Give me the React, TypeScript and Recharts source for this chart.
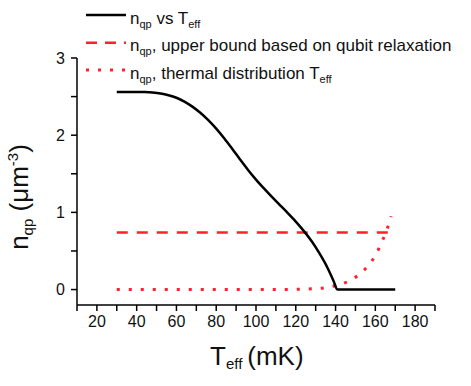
import { Line, LineChart, XAxis, YAxis } from "recharts";

// n_qp vs T_eff (black curve)
const curveT = [30, 40, 44, 48, 52, 56, 60, 64, 68, 72, 76, 80, 84, 88, 92, 96, 100, 104, 108, 112, 116, 120, 124, 128, 132, 136, 139, 141, 150, 160, 170];
const curveN = [2.56, 2.56, 2.558, 2.552, 2.54, 2.518, 2.485, 2.435, 2.37, 2.29, 2.195, 2.085, 1.96, 1.825, 1.685, 1.55, 1.425, 1.31, 1.2, 1.095, 0.99, 0.88, 0.76, 0.625, 0.465, 0.28, 0.11, 0, 0, 0, 0];

// upper bound from qubit relaxation (red dashed)
const boundT = [30, 170];
const boundN = [0.74, 0.74];

// thermal distribution (red dotted)
const thermalT = [30, 60, 90, 110, 120, 125, 130, 135, 140, 145, 150, 155, 158, 161, 164, 166, 168];
const thermalN = [0, 0, 0, 0.001, 0.003, 0.006, 0.012, 0.025, 0.05, 0.09, 0.16, 0.27, 0.36, 0.49, 0.66, 0.79, 0.95];

const xTicks = [10, 20, 30, 40, 50, 60, 70, 80, 90, 100, 110, 120, 130, 140, 150, 160, 170, 180, 190];
const yTicks = [0, 0.5, 1, 1.5, 2, 2.5, 3];

const legendRest = [" vs ", ", upper bound based on qubit relaxation", ", thermal distribution "];

const toRows = (ts: number[], ns: number[]) => ts.map((t, i) => ({ t, n: ns[i] }));

const FONT = "'Liberation Sans', Arial, sans-serif";
const RED = "#ff1f2f";

function XTitle() {
  return (
    <text x={210} y={365} fontFamily={FONT} fontSize={26} fill="#111">
      <tspan>T</tspan>
      <tspan fontSize={15} dy={4}>eff</tspan>
      <tspan dy={-4} dx={5}>(mK)</tspan>
    </text>
  );
}

function YTitle() {
  return (
    <text
      x={28}
      y={197}
      transform="rotate(-90, 28, 197)"
      textAnchor="middle"
      fontFamily={FONT}
      fontSize={26}
      fill="#111"
    >
      <tspan>n</tspan>
      <tspan fontSize={15} dy={5}>qp</tspan>
      <tspan dy={-5}> (μm</tspan>
      <tspan fontSize={15} dy={-10}>-3</tspan>
      <tspan dy={10}>)</tspan>
    </text>
  );
}

function LegendBox() {
  const rows = [
    { y: 15, stroke: "#000", dash: undefined as string | undefined, w: 2.5 },
    { y: 42.7, stroke: RED, dash: "11 8", w: 2.5 },
    { y: 70, stroke: RED, dash: "3 9", w: 3 },
  ];
  return (
    <svg width={471} height={90} style={{ position: "absolute", left: 0, top: 0 }}>
      {rows.map((r, i) => (
        <g key={i}>
          <line x1={86} x2={126} y1={r.y} y2={r.y} stroke={r.stroke} strokeWidth={r.w} strokeDasharray={r.dash} />
          <text x={130} y={r.y + 8.5} fontFamily={FONT} fontSize={17} fill="#111">
            <tspan>n</tspan>
            <tspan fontSize={11} dy={4}>qp</tspan>
            <tspan dy={-4}>{legendRest[i]}</tspan>
            {i !== 1 && (
              <>
                <tspan>T</tspan>
                <tspan fontSize={11} dy={4}>eff</tspan>
              </>
            )}
          </text>
        </g>
      ))}
    </svg>
  );
}

export default function App() {
  return (
    <div style={{ position: "absolute", left: 0, top: 0, width: 471, height: 386, background: "#fff" }}>
      <LineChart width={471} height={386} margin={{ top: 58, right: 36, left: 0, bottom: 0 }}>
        <XAxis
          type="number"
          dataKey="t"
          domain={[10, 190]}
          ticks={xTicks}
          interval={0}
          allowDataOverflow
          height={81}
          stroke="#000"
          strokeWidth={1.5}
          tickSize={6}
          tickMargin={5}
          tick={{ fill: "#111", fontSize: 16, fontFamily: FONT }}
          tickFormatter={(v: number) => (v % 20 === 0 && v >= 20 && v <= 180 ? String(v) : "")}
          label={<XTitle />}
        />
        <YAxis
          type="number"
          dataKey="n"
          domain={[-0.2, 3]}
          ticks={yTicks}
          interval={0}
          allowDataOverflow
          width={77}
          stroke="#000"
          strokeWidth={1.5}
          tickSize={6}
          tickMargin={6}
          tick={{ fill: "#111", fontSize: 16, fontFamily: FONT }}
          tickFormatter={(v: number) => (Number.isInteger(v) ? String(v) : "")}
          label={<YTitle />}
        />
        <Line data={toRows(boundT, boundN)} dataKey="n" stroke={RED} strokeWidth={2.5} strokeDasharray="11 9" dot={false} isAnimationActive={false} />
        <Line data={toRows(thermalT, thermalN)} dataKey="n" type="monotone" stroke={RED} strokeWidth={3} strokeDasharray="3 9" dot={false} isAnimationActive={false} />
        <Line data={toRows(curveT, curveN)} dataKey="n" type="monotone" stroke="#000" strokeWidth={2.5} dot={false} isAnimationActive={false} />
      </LineChart>
      <LegendBox />
    </div>
  );
}
